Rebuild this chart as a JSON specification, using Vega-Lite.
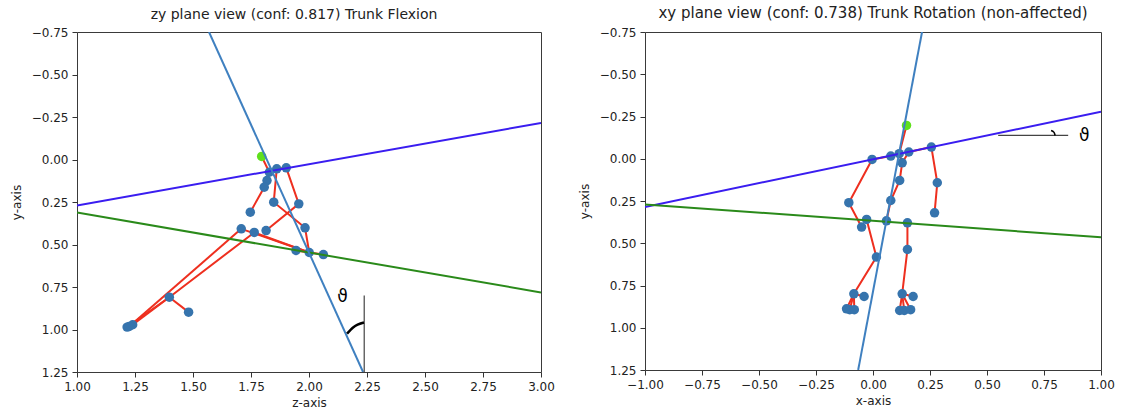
{
  "$schema": "https://vega.github.io/schema/vega-lite/v6.json",
  "background": "white",
  "padding": {"left": 9, "top": 5, "right": 5, "bottom": 2},
  "spacing": 22,
  "config": {
    "font": "DejaVu Sans",
    "view": {"stroke": "#3a3a3a", "strokeWidth": 1},
    "axis": {"grid": false, "domain": false, "tickColor": "#333", "tickSize": 5, "labelPadding": 4, "labelFont": "DejaVu Sans", "labelFontSize": 12, "labelColor": "#222", "titleFont": "DejaVu Sans", "titleFontSize": 12, "titleFontWeight": "normal", "titleColor": "#222", "labelFlush": false, "labelOverlap": false},
    "axisX": {"titlePadding": 5},
    "axisY": {"titlePadding": 8},
    "title": {"font": "DejaVu Sans", "fontSize": 14, "fontWeight": "normal", "color": "#222", "anchor": "middle", "offset": 4}
  },
  "datasets": {
    "L_pts": [
      {"h":1.829,"v":0.075,"c":"joint"},{"h":1.861,"v":0.055,"c":"joint"},{"h":1.902,"v":0.049,"c":"joint"},
      {"h":1.819,"v":0.124,"c":"joint"},{"h":1.807,"v":0.163,"c":"joint"},{"h":1.848,"v":0.251,"c":"joint"},
      {"h":1.956,"v":0.261,"c":"joint"},{"h":1.747,"v":0.310,"c":"joint"},{"h":1.983,"v":0.402,"c":"joint"},
      {"h":1.708,"v":0.408,"c":"joint"},{"h":1.764,"v":0.429,"c":"joint"},{"h":1.815,"v":0.418,"c":"joint"},
      {"h":1.944,"v":0.535,"c":"joint"},{"h":2.001,"v":0.547,"c":"joint"},{"h":2.062,"v":0.559,"c":"joint"},
      {"h":1.398,"v":0.810,"c":"joint"},{"h":1.481,"v":0.898,"c":"joint"},{"h":1.216,"v":0.986,"c":"joint"},
      {"h":1.225,"v":0.982,"c":"joint"},{"h":1.240,"v":0.972,"c":"joint"},
      {"h":1.796,"v":-0.018,"c":"head"}
    ],
    "L_bones": [
      {"b":1,"o":0,"h":1.796,"v":-0.018},{"b":1,"o":1,"h":1.829,"v":0.075},
      {"b":2,"o":0,"h":1.829,"v":0.075},{"b":2,"o":1,"h":1.819,"v":0.124},{"b":2,"o":2,"h":1.807,"v":0.163},{"b":2,"o":3,"h":1.747,"v":0.310},
      {"b":3,"o":0,"h":1.829,"v":0.075},{"b":3,"o":1,"h":1.861,"v":0.055},{"b":3,"o":2,"h":1.902,"v":0.049},
      {"b":4,"o":0,"h":1.861,"v":0.055},{"b":4,"o":1,"h":1.848,"v":0.251},{"b":4,"o":2,"h":1.983,"v":0.402},{"b":4,"o":3,"h":2.001,"v":0.547},
      {"b":5,"o":0,"h":1.902,"v":0.049},{"b":5,"o":1,"h":1.956,"v":0.261},{"b":5,"o":2,"h":1.815,"v":0.418},
      {"b":6,"o":0,"h":1.708,"v":0.408},{"b":6,"o":1,"h":2.001,"v":0.547},
      {"b":7,"o":0,"h":1.764,"v":0.429},{"b":7,"o":1,"h":2.001,"v":0.547},
      {"b":8,"o":0,"h":1.764,"v":0.429},{"b":8,"o":1,"h":1.398,"v":0.810},{"b":8,"o":2,"h":1.216,"v":0.986},
      {"b":9,"o":0,"h":1.708,"v":0.408},{"b":9,"o":1,"h":1.225,"v":0.982},
      {"b":10,"o":0,"h":1.398,"v":0.810},{"b":10,"o":1,"h":1.481,"v":0.898},
      {"b":11,"o":0,"h":2.001,"v":0.547},{"b":11,"o":1,"h":1.944,"v":0.535},
      {"b":12,"o":0,"h":2.001,"v":0.547},{"b":12,"o":1,"h":2.062,"v":0.559},
      {"b":13,"o":0,"h":1.398,"v":0.810},{"b":13,"o":1,"h":1.240,"v":0.972}
    ],
    "L_ref": [
      {"k":"blue","o":0,"h":1.0,"v":0.27},{"k":"blue","o":1,"h":3.0,"v":-0.215},
      {"k":"green","o":0,"h":1.0,"v":0.312},{"k":"green","o":1,"h":3.0,"v":0.782},
      {"k":"steel","o":0,"h":1.569,"v":-0.75},{"k":"steel","o":1,"h":2.233,"v":1.25}
    ],
    "L_ann": [
      {"k":"vert","o":0,"h":2.238,"v":0.80},{"k":"vert","o":1,"h":2.238,"v":1.25},
      {"k":"arc","o":0,"h":2.164,"v":1.024},{"k":"arc","o":1,"h":2.190,"v":0.988},{"k":"arc","o":2,"h":2.237,"v":0.959}
    ],
    "L_txt": [{"h":2.145,"v":0.810,"t":"ϑ"}],
    "R_pts": [
      {"h":-0.004,"v":0.004,"c":"joint"},{"h":0.078,"v":-0.016,"c":"joint"},{"h":0.115,"v":-0.030,"c":"joint"},
      {"h":0.157,"v":-0.040,"c":"joint"},{"h":0.256,"v":-0.069,"c":"joint"},{"h":0.128,"v":0.024,"c":"joint"},
      {"h":0.117,"v":0.128,"c":"joint"},{"h":0.282,"v":0.142,"c":"joint"},{"h":0.078,"v":0.247,"c":"joint"},
      {"h":-0.106,"v":0.260,"c":"joint"},{"h":0.270,"v":0.320,"c":"joint"},{"h":-0.028,"v":0.359,"c":"joint"},
      {"h":-0.050,"v":0.404,"c":"joint"},{"h":0.059,"v":0.367,"c":"joint"},{"h":0.151,"v":0.379,"c":"joint"},
      {"h":0.015,"v":0.582,"c":"joint"},{"h":0.151,"v":0.537,"c":"joint"},{"h":-0.084,"v":0.799,"c":"joint"},
      {"h":-0.039,"v":0.815,"c":"joint"},{"h":-0.116,"v":0.888,"c":"joint"},{"h":-0.102,"v":0.893,"c":"joint"},
      {"h":-0.082,"v":0.893,"c":"joint"},{"h":0.128,"v":0.799,"c":"joint"},{"h":0.176,"v":0.815,"c":"joint"},
      {"h":0.117,"v":0.898,"c":"joint"},{"h":0.137,"v":0.898,"c":"joint"},{"h":0.165,"v":0.893,"c":"joint"},
      {"h":0.147,"v":-0.197,"c":"head"}
    ],
    "R_bones": [
      {"b":1,"o":0,"h":0.147,"v":-0.197},{"b":1,"o":1,"h":0.115,"v":-0.030},{"b":1,"o":2,"h":0.128,"v":0.024},
      {"b":2,"o":0,"h":0.157,"v":-0.040},{"b":2,"o":1,"h":0.128,"v":0.024},
      {"b":3,"o":0,"h":0.128,"v":0.024},{"b":3,"o":1,"h":0.117,"v":0.128},{"b":3,"o":2,"h":0.078,"v":0.247},{"b":3,"o":3,"h":0.059,"v":0.367},
      {"b":4,"o":0,"h":-0.004,"v":0.004},{"b":4,"o":1,"h":-0.106,"v":0.260},{"b":4,"o":2,"h":-0.050,"v":0.404},
      {"b":5,"o":0,"h":0.256,"v":-0.069},{"b":5,"o":1,"h":0.282,"v":0.142},{"b":5,"o":2,"h":0.270,"v":0.320},
      {"b":6,"o":0,"h":-0.004,"v":0.004},{"b":6,"o":1,"h":0.078,"v":-0.016},{"b":6,"o":2,"h":0.115,"v":-0.030},
      {"b":7,"o":0,"h":0.157,"v":-0.040},{"b":7,"o":1,"h":0.256,"v":-0.069},
      {"b":8,"o":0,"h":-0.028,"v":0.359},{"b":8,"o":1,"h":0.015,"v":0.582},{"b":8,"o":2,"h":-0.084,"v":0.799},
      {"b":9,"o":0,"h":-0.084,"v":0.799},{"b":9,"o":1,"h":-0.039,"v":0.815},
      {"b":10,"o":0,"h":-0.084,"v":0.799},{"b":10,"o":1,"h":-0.116,"v":0.888},
      {"b":11,"o":0,"h":-0.084,"v":0.799},{"b":11,"o":1,"h":-0.102,"v":0.893},
      {"b":12,"o":0,"h":-0.084,"v":0.799},{"b":12,"o":1,"h":-0.082,"v":0.893},
      {"b":13,"o":0,"h":0.151,"v":0.379},{"b":13,"o":1,"h":0.151,"v":0.537},{"b":13,"o":2,"h":0.128,"v":0.799},
      {"b":14,"o":0,"h":0.128,"v":0.799},{"b":14,"o":1,"h":0.176,"v":0.815},
      {"b":15,"o":0,"h":0.128,"v":0.799},{"b":15,"o":1,"h":0.117,"v":0.898},
      {"b":16,"o":0,"h":0.128,"v":0.799},{"b":16,"o":1,"h":0.137,"v":0.898},
      {"b":17,"o":0,"h":0.128,"v":0.799},{"b":17,"o":1,"h":0.165,"v":0.893}
    ],
    "R_ref": [
      {"k":"blue","o":0,"h":-1.0,"v":0.285},{"k":"blue","o":1,"h":1.0,"v":-0.278},
      {"k":"green","o":0,"h":-1.0,"v":0.27},{"k":"green","o":1,"h":1.0,"v":0.465},
      {"k":"steel","o":0,"h":-0.065,"v":1.25},{"k":"steel","o":1,"h":0.215,"v":-0.75}
    ],
    "R_ann": [
      {"k":"vert","o":0,"h":0.549,"v":-0.138},{"k":"vert","o":1,"h":0.856,"v":-0.138},
      {"k":"arc","o":0,"h":0.781,"v":-0.167},{"k":"arc","o":1,"h":0.794,"v":-0.156},{"k":"arc","o":2,"h":0.799,"v":-0.138}
    ],
    "R_txt": [{"h":0.927,"v":-0.134,"t":"ϑ"}]
  },
  "hconcat": [
    {
      "title": {"text": "zy plane view (conf: 0.817) Trunk Flexion", "dx": -15},
      "width": 464,
      "height": 340,
      "encoding": {
        "x": {"field": "h", "type": "quantitative", "scale": {"domain": [1, 3], "nice": false, "zero": false}, "axis": {"title": "z-axis", "values": [1, 1.25, 1.5, 1.75, 2, 2.25, 2.5, 2.75, 3], "format": ".2f"}},
        "y": {"field": "v", "type": "quantitative", "scale": {"domain": [-0.75, 1.25], "reverse": true, "nice": false, "zero": false}, "axis": {"title": "y-axis", "values": [-0.75, -0.5, -0.25, 0, 0.25, 0.5, 0.75, 1, 1.25], "format": ".2f"}}
      },
      "layer": [
        {"data": {"name": "L_bones"}, "mark": {"type": "line", "color": "#ee2f1f", "strokeWidth": 2, "clip": true}, "encoding": {"detail": {"field": "b", "type": "nominal"}, "order": {"field": "o", "type": "quantitative"}}},
        {"data": {"name": "L_pts"}, "mark": {"type": "circle", "size": 90, "opacity": 1}, "encoding": {"color": {"field": "c", "type": "nominal", "scale": {"domain": ["joint", "head"], "range": ["#3674ad", "#5fe01c"]}, "legend": null}}},
        {"data": {"name": "L_ref"}, "mark": {"type": "line", "strokeWidth": 2, "clip": true}, "encoding": {"detail": {"field": "k", "type": "nominal"}, "order": {"field": "o", "type": "quantitative"}, "stroke": {"field": "k", "type": "nominal", "scale": {"domain": ["blue", "green", "steel"], "range": ["#3a1df0", "#2a8a1a", "#3f80c0"]}, "legend": null}}},
        {"data": {"name": "L_ann"}, "transform": [{"filter": "datum.k === 'vert'"}], "mark": {"type": "line", "color": "#444444", "strokeWidth": 1.2, "clip": true}, "encoding": {"order": {"field": "o", "type": "quantitative"}}},
        {"data": {"name": "L_ann"}, "transform": [{"filter": "datum.k === 'arc'"}], "mark": {"type": "line", "color": "#000000", "strokeWidth": 2.5, "interpolate": "monotone", "clip": true}, "encoding": {"order": {"field": "o", "type": "quantitative"}}},
        {"data": {"name": "L_txt"}, "mark": {"type": "text", "fontSize": 17, "font": "DejaVu Sans", "color": "#000", "align": "center", "baseline": "middle"}, "encoding": {"text": {"field": "t", "type": "nominal"}}}
      ]
    },
    {
      "title": {"text": "xy plane view (conf: 0.738) Trunk Rotation (non-affected)", "fontSize": 15, "offset": 5},
      "width": 456,
      "height": 338,
      "encoding": {
        "x": {"field": "h", "type": "quantitative", "scale": {"domain": [-1, 1], "nice": false, "zero": false}, "axis": {"title": "x-axis", "values": [-1, -0.75, -0.5, -0.25, 0, 0.25, 0.5, 0.75, 1], "format": ".2f"}},
        "y": {"field": "v", "type": "quantitative", "scale": {"domain": [-0.75, 1.25], "reverse": true, "nice": false, "zero": false}, "axis": {"title": "y-axis", "values": [-0.75, -0.5, -0.25, 0, 0.25, 0.5, 0.75, 1, 1.25], "format": ".2f"}}
      },
      "layer": [
        {"data": {"name": "R_bones"}, "mark": {"type": "line", "color": "#ee2f1f", "strokeWidth": 2, "clip": true}, "encoding": {"detail": {"field": "b", "type": "nominal"}, "order": {"field": "o", "type": "quantitative"}}},
        {"data": {"name": "R_pts"}, "mark": {"type": "circle", "size": 90, "opacity": 1}, "encoding": {"color": {"field": "c", "type": "nominal", "scale": {"domain": ["joint", "head"], "range": ["#3674ad", "#5fe01c"]}, "legend": null}}},
        {"data": {"name": "R_ref"}, "mark": {"type": "line", "strokeWidth": 2, "clip": true}, "encoding": {"detail": {"field": "k", "type": "nominal"}, "order": {"field": "o", "type": "quantitative"}, "stroke": {"field": "k", "type": "nominal", "scale": {"domain": ["blue", "green", "steel"], "range": ["#3a1df0", "#2a8a1a", "#3f80c0"]}, "legend": null}}},
        {"data": {"name": "R_ann"}, "transform": [{"filter": "datum.k === 'vert'"}], "mark": {"type": "line", "color": "#444444", "strokeWidth": 1.2, "clip": true}, "encoding": {"order": {"field": "o", "type": "quantitative"}}},
        {"data": {"name": "R_ann"}, "transform": [{"filter": "datum.k === 'arc'"}], "mark": {"type": "line", "color": "#000000", "strokeWidth": 1.5, "interpolate": "monotone", "clip": true}, "encoding": {"order": {"field": "o", "type": "quantitative"}}},
        {"data": {"name": "R_txt"}, "mark": {"type": "text", "fontSize": 17, "font": "DejaVu Sans", "color": "#000", "align": "center", "baseline": "middle"}, "encoding": {"text": {"field": "t", "type": "nominal"}}}
      ]
    }
  ]
}
